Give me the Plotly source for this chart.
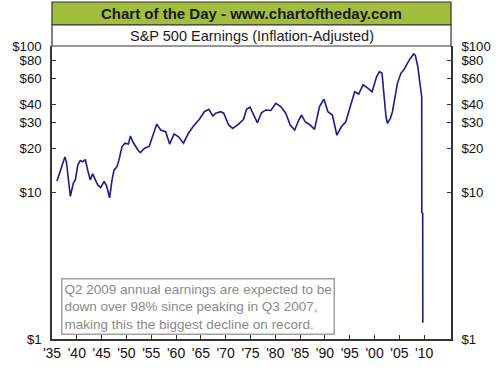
import plotly.graph_objects as go

years = [1936.0, 1937.6, 1937.9, 1938.7, 1939.3, 1939.7, 1940.2, 1940.7, 1941.2, 1941.7,
         1942.2, 1942.7, 1943.2, 1943.7, 1944.2, 1944.8, 1945.5, 1946.0, 1946.6, 1947.1,
         1947.5, 1948.1, 1948.5, 1949.1, 1949.7, 1950.4, 1950.8, 1951.3, 1952.3, 1952.8,
         1953.6, 1954.6, 1955.4, 1956.1, 1956.9, 1957.9, 1958.7, 1959.6, 1960.5, 1961.5,
         1962.5, 1963.4, 1964.7, 1965.7, 1966.6, 1967.4, 1968.0, 1969.0, 1969.6, 1970.6,
         1971.4, 1972.6, 1973.6, 1974.2, 1974.9, 1975.5, 1976.4, 1977.2, 1978.1, 1979.1,
         1980.1, 1981.1, 1982.1, 1983.0, 1983.9, 1984.7, 1985.3, 1986.0, 1987.0, 1987.9,
         1988.9, 1989.8, 1990.6, 1991.5, 1992.4, 1993.3, 1994.2, 1995.1, 1996.0, 1996.8,
         1997.7, 1998.7, 1999.5, 2000.4, 2001.0, 2001.5, 2001.9, 2002.3, 2002.6, 2003.2,
         2003.6, 2004.1, 2004.6, 2005.3, 2005.9, 2006.6, 2007.2, 2007.9, 2008.2, 2008.7,
         2009.2, 2009.5, 2009.52, 2009.7, 2009.72]
earnings = [12.0, 17.5, 16.2, 9.4, 11.6, 12.2, 15.4, 16.5, 16.2, 16.8,
            14.2, 12.2, 13.4, 12.2, 11.3, 10.8, 11.9, 11.1, 9.2, 12.2,
            14.2, 15.0, 16.7, 20.5, 21.7, 21.4, 24.3, 22.2, 19.5, 18.7,
            20.0, 20.7, 25.4, 29.3, 26.7, 26.0, 21.4, 25.1, 24.0, 21.7,
            25.4, 28.1, 31.6, 35.6, 37.0, 33.3, 34.8, 35.6, 34.8, 28.9,
            27.4, 29.3, 31.6, 37.0, 38.2, 34.8, 29.9, 35.0, 36.6, 36.3,
            40.6, 38.6, 34.8, 28.9, 26.7, 31.1, 33.8, 30.4, 28.9, 27.0,
            38.6, 43.3, 35.6, 33.8, 24.6, 28.1, 30.4, 38.6, 48.7, 47.0,
            54.4, 51.4, 48.7, 61.6, 66.8, 65.1, 47.5, 32.9, 29.6, 32.2,
            35.6, 44.0, 55.6, 65.1, 68.8, 76.0, 82.3, 88.2, 86.6, 72.8,
            50.4, 45.0, 7.3, 7.2, 1.29]

x_tickvals = [1935, 1940, 1945, 1950, 1955, 1960, 1965, 1970, 1975, 1980, 1985, 1990, 1995, 2000, 2005, 2010]
x_ticktext = ["'35", "'40", "'45", "'50", "'55", "'60", "'65", "'70", "'75", "'80", "'85", "'90", "'95", "'00", "'05", "'10"]
y_tickvals = [1, 10, 20, 30, 40, 60, 80, 100]
y_ticktext = ["$1", "$10", "$20", "$30", "$40", "$60", "$80", "$100"]

header = "Chart of the Day - www.chartoftheday.com"
subtitle = "S&P 500 Earnings (Inflation-Adjusted)"
note = ("Q2 2009 annual earnings are expected to be<br>"
        "down over 98% since peaking in Q3 2007,<br>"
        "making this the biggest decline on record.")

FONT = "Liberation Sans, Arial, sans-serif"
W, H = 503, 377
L, R, T, B = 50, 43, 46, 38
ph = H - T - B

def py(p):
    return (H - B - p) / ph

fig = go.Figure()
fig.add_trace(go.Scatter(x=years, y=earnings, mode="lines",
                         line=dict(color="#1c1c8a", width=1.6), showlegend=False))
fig.add_trace(go.Scatter(x=[years[0]], y=[earnings[0]], mode="markers", yaxis="y2",
                         marker=dict(opacity=0), showlegend=False, hoverinfo="skip"))

axis_line = dict(showline=True, linecolor="#333333", linewidth=1.5, showgrid=False,
                 zeroline=False, ticks="inside", ticklen=4, tickcolor="#333333")
xfont = dict(family=FONT, size=14, color="#111111")
yfont = dict(family=FONT, size=13.2, color="#111111")

fig.update_layout(
    width=W, height=H,
    margin=dict(l=L, r=R, t=T, b=B),
    paper_bgcolor="white", plot_bgcolor="white",
    xaxis=dict(range=[1935, 2015.4], tickvals=x_tickvals, ticktext=x_ticktext,
               tickfont=xfont, **axis_line),
    yaxis=dict(type="log", range=[0, 2], tickvals=y_tickvals, ticktext=y_ticktext,
               ticklabelstandoff=6, tickfont=yfont, **axis_line),
    yaxis2=dict(type="log", range=[0, 2], tickvals=y_tickvals, ticktext=y_ticktext,
                overlaying="y", side="right", ticklabelstandoff=6, tickfont=yfont, **axis_line),
    shapes=[
        dict(type="rect", xref="paper", yref="paper", x0=0, x1=1, y0=py(25), y1=py(2),
             fillcolor="#a3be3e", line=dict(color="#333333", width=1.2), layer="above"),
        dict(type="rect", xref="paper", yref="paper", x0=0, x1=1, y0=1, y1=py(25),
             fillcolor="white", line=dict(color="#333333", width=1.2), layer="above"),
    ],
    annotations=[
        dict(text="<b>" + header + "</b>", xref="paper", yref="paper", x=0.5, y=py(13.5),
             xanchor="center", yanchor="middle", showarrow=False,
             font=dict(family=FONT, size=15, color="#1a1a1a")),
        dict(text=subtitle, xref="paper", yref="paper", x=0.5, y=py(35.5),
             xanchor="center", yanchor="middle", showarrow=False,
             font=dict(family=FONT, size=14.5, color="#1a1a1a")),
        dict(text=note, xref="paper", yref="paper", x=(59 - L) / (W - L - R), y=py(278),
             xanchor="left", yanchor="top", align="left", showarrow=False,
             bordercolor="#a0a0a0", borderwidth=1.5, borderpad=2, bgcolor="white",
             font=dict(family=FONT, size=13.5, color="#8a8a8a")),
    ],
)

fig.write_html("out.html", config={"displayModeBar": False},
               post_script="document.body.style.margin='0';document.body.style.padding='0';")
